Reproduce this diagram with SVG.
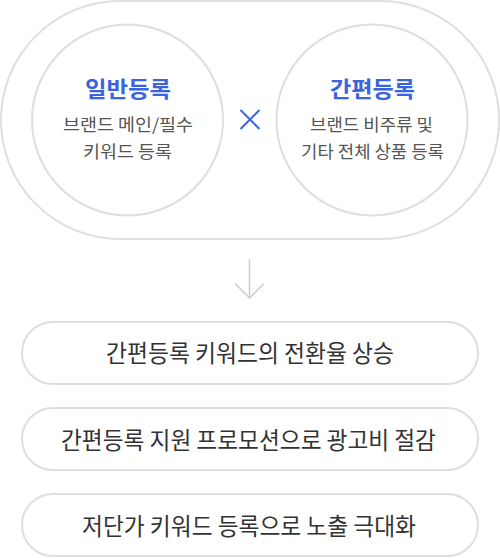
<svg xmlns="http://www.w3.org/2000/svg" width="500" height="558" viewBox="0 0 500 558">
<style>
.ring{fill:#fff;stroke:#dedede;stroke-width:2}
.title{font-family:"Noto Sans CJK KR","Noto Sans",sans-serif;font-weight:700;font-size:22px;fill:#3a63e0;text-anchor:middle}
.sub{font-family:"Noto Sans CJK KR","Noto Sans",sans-serif;font-size:17px;fill:#555;text-anchor:middle}
.res{font-family:"Noto Sans CJK KR","Noto Sans",sans-serif;font-size:23.5px;fill:#333;text-anchor:middle}
.conn{fill:none;stroke:#ccc;stroke-width:1.5}
</style>
<rect id="outer" class="ring" x="1" y="1" width="498" height="238" rx="119"/>
<g id="node-general">
<circle class="ring" cx="127.5" cy="120" r="95.5"/>
<text class="title" x="128" y="96.5" textLength="86" lengthAdjust="spacingAndGlyphs">일반등록</text>
<text class="sub" x="128" y="130.5" textLength="130" lengthAdjust="spacingAndGlyphs">브랜드 메인/필수</text>
<text class="sub" x="127.5" y="158" textLength="89" lengthAdjust="spacingAndGlyphs">키워드 등록</text>
</g>
<g id="node-simple">
<circle class="ring" cx="372" cy="120" r="95.5"/>
<text class="title" x="372.5" y="96.5" textLength="85" lengthAdjust="spacingAndGlyphs">간편등록</text>
<text class="sub" x="371.5" y="130.5" textLength="123" lengthAdjust="spacingAndGlyphs">브랜드 비주류 및</text>
<text class="sub" x="372.5" y="158" textLength="143" lengthAdjust="spacingAndGlyphs">기타 전체 상품 등록</text>
</g>
<g id="times">
<path d="M240.5 110 L259.5 129 M259.5 110 L240.5 129" stroke="#3d66e0" stroke-width="2" fill="none"/>
</g>
<g id="connectors">
<path class="conn" d="M249.5 259 V298"/>
<path class="conn" d="M235 283.5 L249.5 298 L264 283.5"/>
</g>
<g id="result-1">
<rect class="ring" x="22" y="322" width="456" height="62" rx="31"/>
<text class="res" x="250" y="362" textLength="288" lengthAdjust="spacingAndGlyphs">간편등록 키워드의 전환율 상승</text>
</g>
<g id="result-2">
<rect class="ring" x="22" y="408" width="456" height="62" rx="31"/>
<text class="res" x="248.5" y="448.5" textLength="375" lengthAdjust="spacingAndGlyphs">간편등록 지원 프로모션으로 광고비 절감</text>
</g>
<g id="result-3">
<rect class="ring" x="22" y="494" width="456" height="62" rx="31"/>
<text class="res" x="249" y="534.5" textLength="334" lengthAdjust="spacingAndGlyphs">저단가 키워드 등록으로 노출 극대화</text>
</g>
</svg>
